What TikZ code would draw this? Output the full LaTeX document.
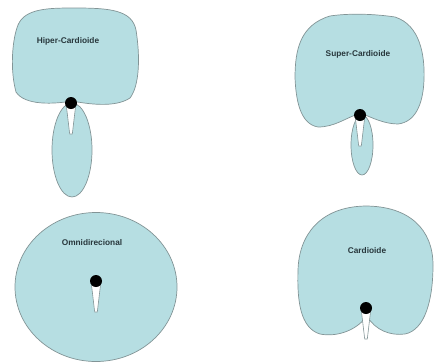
\documentclass[tikz,border=0pt]{standalone}
\usepackage{fontspec}
\setmainfont{Liberation Sans}
\definecolor{lobe}{RGB}{182,222,226}
\definecolor{edge}{RGB}{130,148,150}
\definecolor{txt}{RGB}{40,55,60}
\tikzset{
  lobestyle/.style={fill=lobe, draw=edge, line width=0.7pt},
  micbody/.style={fill=white, draw=edge, line width=0.6pt, line join=round},
  micdot/.style={fill=black},
  lbl/.style={text=txt, font=\bfseries\fontsize{8.3}{10}\selectfont, inner sep=0pt}
}
\newcommand{\micro}[2]{%
  \draw[micbody] (#1-4.5,#2+4) -- (#1+4.5,#2+4) -- (#1+1.3,#2+31) -- (#1-1.3,#2+31) -- cycle;
  \fill[micdot] (#1,#2) circle (6);
}
\begin{document}
\begin{tikzpicture}[x=1pt,y=-1pt]
\useasboundingbox (0,0) rectangle (435,362);
% Hiper-Cardioide
\draw[lobestyle] (72,150) ellipse (20 and 47);
\draw[lobestyle] (72,101) .. controls (55,104) and (25,106) .. (16,92)
  .. controls (10,70) and (12,40) .. (18,25)
  .. controls (25,8) and (50,8) .. (75,8)
  .. controls (110,8) and (132,10) .. (136,30)
  .. controls (140,55) and (140,85) .. (130,98)
  .. controls (115,108) and (88,104) .. (72,101) -- cycle;
\micro{71}{103}
\node[lbl] (hiper) at (68,41) {Hiper-Cardioide};
% Super-Cardioide
\draw[lobestyle] (361,113) .. controls (345,118) and (335,127) .. (318,127)
  .. controls (300,124) and (296,100) .. (295,78)
  .. controls (295,50) and (300,25) .. (330,16)
  .. controls (350,13) and (375,14) .. (395,17)
  .. controls (420,25) and (425,55) .. (424,80)
  .. controls (423,105) and (415,122) .. (398,124)
  .. controls (385,124) and (372,118) .. (361,113) -- cycle;
\draw[lobestyle] (362,145) ellipse (11 and 30);
\micro{360}{115}
\node[lbl] (super) at (358,54) {Super-Cardioide};
% Omnidirecional
\draw[lobestyle] (96,287) ellipse (81 and 74.5);
\micro{96}{281}
\node[lbl] (omni) at (92,243) {Omnidirecional};
% Cardioide
\draw[lobestyle] (367,316) .. controls (355,332) and (335,337) .. (320,334)
  .. controls (300,328) and (297,300) .. (298,270)
  .. controls (299,235) and (320,207) .. (365,206)
  .. controls (410,206) and (433,230) .. (433,265)
  .. controls (433,300) and (425,330) .. (405,334)
  .. controls (390,336) and (375,330) .. (367,316) -- cycle;
\micro{366}{308}
\node[lbl] (cardio) at (367,251) {Cardioide};
\end{tikzpicture}
\end{document}
